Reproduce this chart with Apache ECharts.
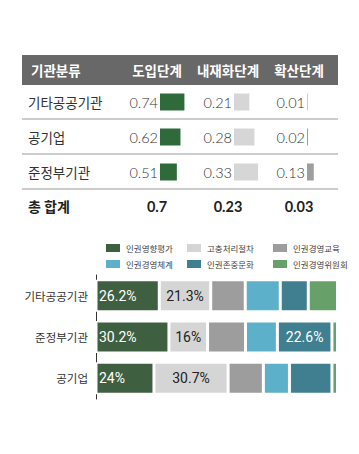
<!DOCTYPE html>
<html>
<head>
<meta charset="utf-8">
<script src="https://cdn.jsdelivr.net/npm/echarts@6/dist/echarts.min.js"></script>
<style>html,body{margin:0;padding:0;background:#fff}#c{width:359px;height:454px}</style>
</head>
<body>
<div id="c"></div>
<script>
// ---- Table data ----
const tableHeaders = ['기관분류', '도입단계', '내재화단계', '확산단계'];
const tableRows = ['기타공공기관', '공기업', '준정부기관'];
const stageIntro = [0.74, 0.62, 0.51];
const stageInternal = [0.21, 0.28, 0.33];
const stageSpread = [0.01, 0.02, 0.13];
const totalLabel = '총 합계';
const totals = ['0.7', '0.23', '0.03'];

// ---- Stacked chart data ----
const chartCategories = ['기타공공기관', '준정부기관', '공기업'];
const seriesNames = ['인권영향평가', '고충처리절차', '인권경영교육', '인권경영체계', '인권존중문화', '인권경영위원회'];
const s1 = [26.2, 30.2, 24.0];
const s2 = [21.3, 16.0, 30.7];
const s3 = [14.3, 15.7, 14.6];
const s4 = [14.5, 13.2, 10.8];
const s5 = [11.6, 22.6, 17.6];
const s6 = [12.1, 2.3, 2.3];
const shownLabels = [[true, true, true], [true, true, true], [false, false, false], [false, false, false], [false, true, false], [false, false, false]];

const seriesColors = ['#3e5f40', '#d5d5d5', '#9d9d9d', '#5cb0ca', '#3f7f8f', '#68a06a'];
const labelColors = ['#fff', '#222', '#222', '#fff', '#fff', '#fff'];
const tableBarColors = ['#2f6a3a', '#d6d6d6', '#9e9e9e'];

const numFont = 'Lato, "Open Sans", sans-serif';
const krFont = '"Noto Sans CJK KR", sans-serif';

const tableCols = [
  {data: stageIntro, left: 160, width: 33, color: tableBarColors[0], center: 157, total: totals[0]},
  {data: stageInternal, left: 234, width: 73, color: tableBarColors[1], center: 228, total: totals[1]},
  {data: stageSpread, left: 307, width: 192, color: tableBarColors[2], center: 299, total: totals[2]}
];

const grids = [], xAxes = [], yAxes = [], series = [];
tableCols.forEach((c, i) => {
  grids.push({left: c.left, top: 84.5, width: c.width, height: 105});
  xAxes.push({type: 'value', gridIndex: i, min: 0, max: 1, show: false});
  yAxes.push({
    type: 'category', gridIndex: i, data: tableRows, inverse: true,
    axisLine: {show: false}, axisTick: {show: false}, splitLine: {show: false},
    axisLabel: i === 0 ? {show: true, align: 'left', margin: 132, fontSize: 13.5, color: '#333', fontFamily: krFont} : {show: false}
  });
  series.push({
    type: 'bar', xAxisIndex: i, yAxisIndex: i, data: c.data, barWidth: 17,
    itemStyle: {color: c.color},
    label: {show: true, position: 'left', distance: 2, fontSize: 14.5, fontWeight: 300, color: '#333', fontFamily: numFont,
      formatter: p => String(p.value)},
    silent: true
  });
});

// stacked chart grid
const gi = grids.length;
grids.push({left: 96, top: 275, width: 241.5, height: 124});
xAxes.push({type: 'value', gridIndex: gi, min: 0, max: 100, show: false});
yAxes.push({
  type: 'category', gridIndex: gi, data: chartCategories, inverse: true,
  axisLine: {show: true, lineStyle: {color: '#333', width: 1}}, axisTick: {show: false},
  axisLabel: {fontSize: 11.5, color: '#333', margin: 8, fontFamily: krFont}
});
[s1, s2, s3, s4, s5, s6].forEach((arr, k) => {
  series.push({
    type: 'bar', name: seriesNames[k], stack: 'total', xAxisIndex: gi, yAxisIndex: gi, barWidth: 32,
    itemStyle: {color: seriesColors[k], borderColor: '#fff', borderWidth: 1.5},
    data: arr.map((v, j) => ({
      value: v,
      label: {show: shownLabels[k][j], position: k === 0 ? 'insideLeft' : 'inside', distance: 3,
        formatter: v + '%', fontSize: 14, color: labelColors[k], fontFamily: 'Roboto, sans-serif'}
    })),
    silent: true
  });
});

const legendBase = {orient: 'vertical', top: 237, itemWidth: 16, itemHeight: 10, itemGap: 4, icon: 'rect',
  textStyle: {fontSize: 8.5, color: '#444', fontFamily: krFont}, selectedMode: false};
const legends = [
  Object.assign({}, legendBase, {left: 99, data: [seriesNames[0], seriesNames[3]]}),
  Object.assign({}, legendBase, {left: 180, data: [seriesNames[1], seriesNames[4]]}),
  Object.assign({}, legendBase, {left: 266, data: [seriesNames[2], seriesNames[5]]})
];

const headerX = [31, tableCols[0].center, tableCols[1].center, tableCols[2].center];
const graphic = [
  {type: 'rect', shape: {x: 22, y: 55, width: 316, height: 30}, style: {fill: '#686868'}, z: 0}
];
tableHeaders.forEach((h, i) => {
  graphic.push({type: 'text', x: headerX[i], y: 70, style: {text: h, fill: '#fff', fontSize: 13.5, fontWeight: 'bold',
    fontFamily: krFont, align: i === 0 ? 'left' : 'center', verticalAlign: 'middle'}});
});
[119, 154, 189].forEach(y => {
  graphic.push({type: 'line', shape: {x1: 22, y1: y, x2: 338, y2: y}, style: {stroke: '#999', lineWidth: 1}});
});
graphic.push({type: 'text', x: 28, y: 206, style: {text: totalLabel, fill: '#222', fontSize: 14, fontWeight: 'bold',
  fontFamily: krFont, align: 'left', verticalAlign: 'middle'}});
tableCols.forEach(c => {
  graphic.push({type: 'text', x: c.center, y: 206, style: {text: c.total, fill: '#222', fontSize: 14.5, fontWeight: 'bold',
    fontFamily: numFont, align: 'center', verticalAlign: 'middle'}});
});

const chart = echarts.init(document.getElementById('c'), null, {renderer: 'svg'});
chart.setOption({
  animation: false,
  backgroundColor: '#fff',
  grid: grids, xAxis: xAxes, yAxis: yAxes, series: series,
  legend: legends,
  graphic: graphic
});
</script>
</body>
</html>
